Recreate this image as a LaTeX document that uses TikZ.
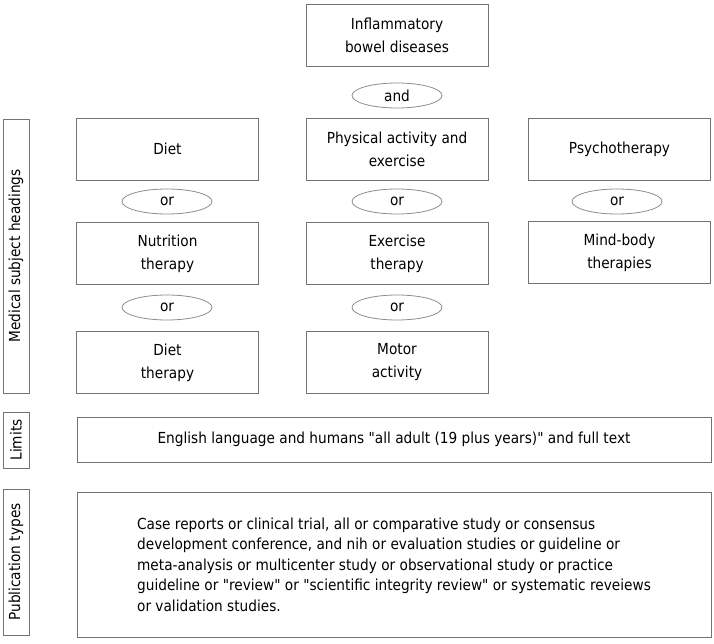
\documentclass[tikz,border=0pt]{standalone}
\usepackage{fontspec}
\setmainfont{DejaVu Sans}[FakeStretch=0.9,Ligatures=TeXOff]
\usetikzlibrary{shapes.geometric}

\begin{document}
\begin{tikzpicture}[x=1pt,y=-1pt,
   term/.style={draw=black!55,line width=0.9pt,minimum width=182pt,minimum height=62pt,
                inner sep=0pt,align=center,font=\fontsize{15.2}{23}\selectfont},
   oper/.style={draw=black!45,line width=0.8pt,ellipse,minimum width=90pt,minimum height=25pt,
                inner sep=0pt,font=\fontsize{15.2}{17}\selectfont},
   side/.style={draw=black!55,line width=0.9pt,rotate=90,minimum height=26pt,
                inner sep=0pt,font=\fontsize{15.2}{17}\selectfont}]
   \useasboundingbox (0,0) rectangle (714,644);
   % search terms
   \node[term] (ibd) at (397,35.5) {Inflammatory\\bowel diseases};
   \node[oper] (and) at (397,95.5) {and};
   \node[term] (diet) at (167.5,149) {Diet};
   \node[term] (phys) at (397,149) {Physical activity and\\exercise};
   \node[term] (psych) at (619.5,149) {Psychotherapy};
   \node[oper] (dor1) at (167,201.5) {or};
   \node[oper] (por1) at (397,201.5) {or};
   \node[oper] (sor1) at (617,201.5) {or};
   \node[term] (nutr) at (167.5,253.5) {Nutrition\\therapy};
   \node[term] (exth) at (397,253.5) {Exercise\\therapy};
   \node[term] (mind) at (619.5,252.5) {Mind-body\\therapies};
   \node[oper] (dor2) at (167,307.5) {or};
   \node[oper] (por2) at (397,307.5) {or};
   \node[term] (dthr) at (167.5,362.5) {Diet\\therapy};
   \node[term] (motor) at (397,362.5) {Motor\\activity};
   % limits and publication types
   \node[term,minimum width=634pt,minimum height=45pt] (lim) at (394,439.5)
      {English language and humans "all adult (19 plus years)" and full text};
   \node[term,minimum width=634pt,minimum height=145pt,align=left,
         font=\fontsize{15.2}{20.5}\selectfont] (pub) at (394,564.5)
      {Case reports or clinical trial, all or comparative study or consensus\\
       development conference, and nih or evaluation studies or guideline or\\
       meta-analysis or multicenter study or observational study or practice\\
       guideline or "review" or "scientific integrity review" or systematic reveiews\\
       or validation studies.};
   % row labels
   \node[side,minimum width=274pt] (mesh) at (16,256) {Medical subject headings};
   \node[side,minimum width=56pt] (limlab) at (16,440) {Limits};
   \node[side,minimum width=146pt] (publab) at (16,562) {Publication types};
\end{tikzpicture}
\end{document}
